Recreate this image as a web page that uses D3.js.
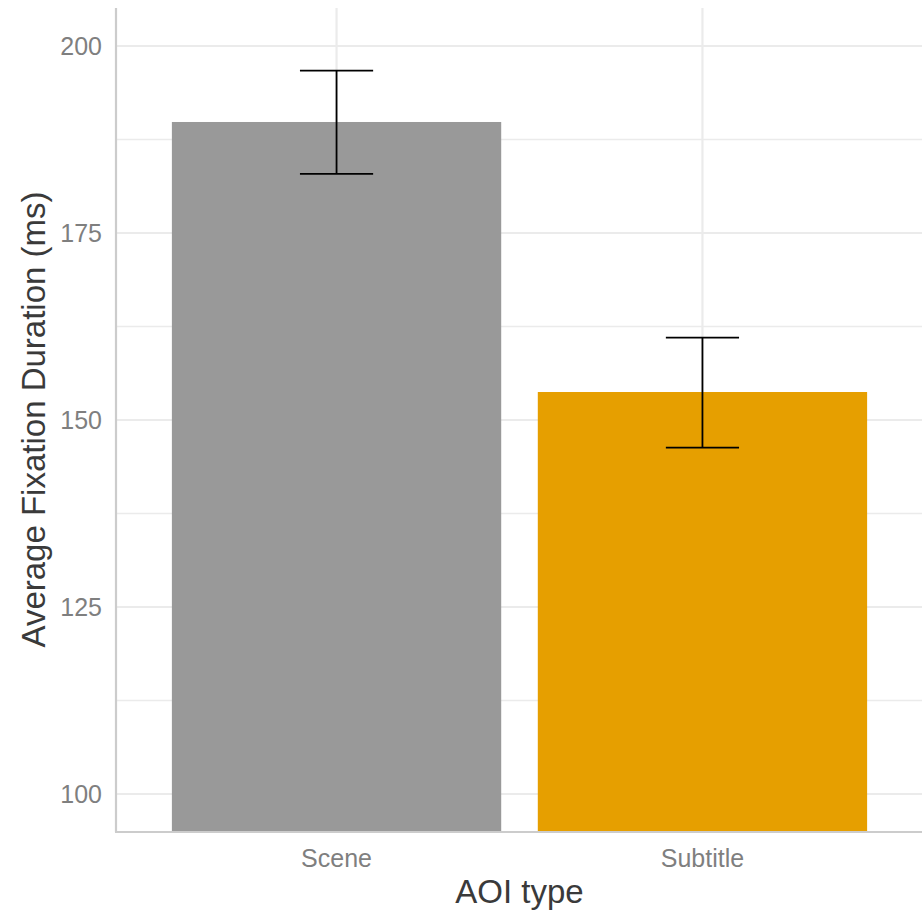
<!DOCTYPE html>
<html>
<head>
<meta charset="utf-8">
<script src="https://cdn.jsdelivr.net/npm/d3@7"></script>
<style>
  body { margin: 0; background: #fff; }
  text { font-family: "Liberation Sans", Arial, sans-serif; }
</style>
</head>
<body>
<script>
// AOI categories and their mean fixation durations with error bar limits
var categories = ["Scene", "Subtitle"];
var means = [189.84, 153.74];
var lower = [182.9, 146.3];
var upper = [196.7, 161.0];
var barColors = ["#999999", "#E69F00"];
var yTicks = [100, 125, 150, 175, 200];
var yMinor = [112.5, 137.5, 162.5, 187.5];

var width = 922;
var height = 912;
var margin = {left: 117, right: 0, top: 8, bottom: 81};
var plotW = width - margin.left - margin.right;
var plotH = height - margin.top - margin.bottom;

var svg = d3.select("body").append("svg")
    .attr("width", width)
    .attr("height", height);

var g = svg.append("g")
    .attr("transform", "translate(" + margin.left + "," + margin.top + ")");

var yScale = d3.scaleLinear()
    .domain([95.05, 205.08])
    .range([plotH, 0]);

// ggplot style discrete scale: 0.6 expansion on each side
var step = plotW / (categories.length + 0.2);
var xCenter = function(i){ return step * (0.6 + i); };
var barWidth = step * 0.9;
var capWidth = step * 0.2;

// minor grid
g.selectAll(".minor")
    .data(yMinor)
    .enter().append("line")
    .attr("x1", 0).attr("x2", plotW)
    .attr("y1", function(d){ return yScale(d); })
    .attr("y2", function(d){ return yScale(d); })
    .attr("stroke", "#ebebeb")
    .attr("stroke-width", 1.3);

// major grid
g.selectAll(".major")
    .data(yTicks)
    .enter().append("line")
    .attr("x1", 0).attr("x2", plotW)
    .attr("y1", function(d){ return yScale(d); })
    .attr("y2", function(d){ return yScale(d); })
    .attr("stroke", "#ebebeb")
    .attr("stroke-width", 2.2);

g.selectAll(".vmajor")
    .data(categories)
    .enter().append("line")
    .attr("x1", function(d, i){ return xCenter(i); })
    .attr("x2", function(d, i){ return xCenter(i); })
    .attr("y1", 0).attr("y2", plotH)
    .attr("stroke", "#ebebeb")
    .attr("stroke-width", 2.2);

// bars
g.selectAll(".bar")
    .data(means)
    .enter().append("rect")
    .attr("x", function(d, i){ return xCenter(i) - barWidth / 2; })
    .attr("y", function(d){ return yScale(d); })
    .attr("width", barWidth)
    .attr("height", function(d){ return plotH - yScale(d); })
    .attr("fill", function(d, i){ return barColors[i]; });

// error bars
var eb = g.selectAll(".err")
    .data(means)
    .enter().append("g")
    .attr("stroke", "#000")
    .attr("stroke-width", 1.8);

eb.append("line")
    .attr("x1", function(d, i){ return xCenter(i); })
    .attr("x2", function(d, i){ return xCenter(i); })
    .attr("y1", function(d, i){ return yScale(upper[i]); })
    .attr("y2", function(d, i){ return yScale(lower[i]); });
eb.append("line")
    .attr("x1", function(d, i){ return xCenter(i) - capWidth / 2; })
    .attr("x2", function(d, i){ return xCenter(i) + capWidth / 2; })
    .attr("y1", function(d, i){ return yScale(upper[i]); })
    .attr("y2", function(d, i){ return yScale(upper[i]); });
eb.append("line")
    .attr("x1", function(d, i){ return xCenter(i) - capWidth / 2; })
    .attr("x2", function(d, i){ return xCenter(i) + capWidth / 2; })
    .attr("y1", function(d, i){ return yScale(lower[i]); })
    .attr("y2", function(d, i){ return yScale(lower[i]); });

// axis lines
g.append("line")
    .attr("x1", -1).attr("x2", -1)
    .attr("y1", 0).attr("y2", plotH + 1)
    .attr("stroke", "#cccccc").attr("stroke-width", 2.2);
g.append("line")
    .attr("x1", -2).attr("x2", plotW)
    .attr("y1", plotH + 1).attr("y2", plotH + 1)
    .attr("stroke", "#cccccc").attr("stroke-width", 2.2);

// tick labels
g.selectAll(".ylab")
    .data(yTicks)
    .enter().append("text")
    .attr("x", -15)
    .attr("y", function(d){ return yScale(d); })
    .attr("dy", "0.36em")
    .attr("text-anchor", "end")
    .attr("font-size", 25)
    .attr("fill", "#7f7f7f")
    .text(function(d){ return d; });

g.selectAll(".xlab")
    .data(categories)
    .enter().append("text")
    .attr("x", function(d, i){ return xCenter(i); })
    .attr("y", plotH + 36)
    .attr("text-anchor", "middle")
    .attr("font-size", 25)
    .attr("fill", "#7f7f7f")
    .text(function(d){ return d; });

// axis titles
svg.append("text")
    .attr("x", margin.left + plotW / 2)
    .attr("y", 903)
    .attr("text-anchor", "middle")
    .attr("font-size", 33)
    .attr("fill", "#3a3a3a")
    .text("AOI type");

svg.append("text")
    .attr("text-anchor", "middle")
    .attr("font-size", 33)
    .attr("fill", "#3a3a3a")
    .attr("transform", "translate(45," + (margin.top + plotH / 2) + ") rotate(-90)")
    .text("Average Fixation Duration (ms)");
</script>
</body>
</html>
